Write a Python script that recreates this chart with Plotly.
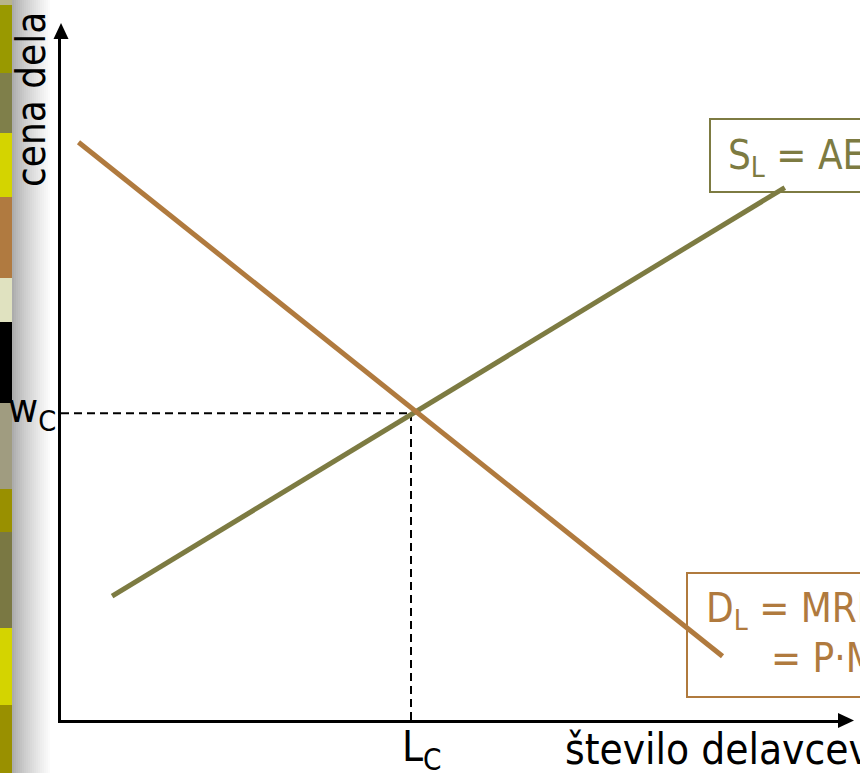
import plotly.graph_objects as go

# podatki (abstraktne enote)
L_C = 5.0
w_C = 5.0
demand_x = [0.25, 9.45]
demand_y = [9.42, 1.04]
supply_x = [0.73, 10.34]
supply_y = [2.02, 8.68]

supply_color = '#7d7b42'
demand_color = '#b07a3e'
font_family = 'DejaVu Sans Condensed, DejaVu Sans, sans-serif'

# dekorativni trak na levi (barve kvadratkov)
strip_edges = [0, 5, 73, 133, 197, 278, 322, 403, 489, 532, 628, 705, 773]
strip_colors = ['#b8b48c', '#999900', '#7f7f4a', '#d4d400', '#b07a40', '#e0e2c0',
                '#000000', '#a09c80', '#999000', '#7a7843', '#d4d400', '#999000']

# robovi risalne površine v pikslih
ML, MR, MT, MB = 61, 22, 38, 53
FW, FH = 860, 773
PW, PH = FW - ML - MR, FH - MT - MB


def px(x):
    return (x - ML) / PW


def py(y):
    return (FH - MB - y) / PH


fig = go.Figure()

fig.add_trace(go.Scatter(x=[0, L_C], y=[w_C, w_C], mode='lines',
                         line=dict(color='black', width=2, dash='8px,5px'), hoverinfo='skip'))
fig.add_trace(go.Scatter(x=[L_C, L_C], y=[0, w_C], mode='lines',
                         line=dict(color='black', width=2, dash='8px,5px'), hoverinfo='skip'))
fig.add_trace(go.Scatter(x=supply_x, y=supply_y, mode='lines',
                         line=dict(color=supply_color, width=5)))
fig.add_trace(go.Scatter(x=demand_x, y=demand_y, mode='lines',
                         line=dict(color=demand_color, width=5)))

shapes = []
for i, c in enumerate(strip_colors):
    shapes.append(dict(type='rect', xref='paper', yref='paper',
                       x0=px(0), x1=px(12), y0=py(strip_edges[i + 1]), y1=py(strip_edges[i]),
                       fillcolor=c, line=dict(width=0), layer='below'))
# siv prehod od traku do bele
n_steps = 20
for i in range(n_steps):
    g = int(172 + (255 - 172) * (i / (n_steps - 1)) ** 0.8)
    shapes.append(dict(type='rect', xref='paper', yref='paper',
                       x0=px(12 + 2 * i), x1=px(14 + 2 * i), y0=py(FH), y1=py(0),
                       fillcolor=f'rgb({g},{g},{g})', line=dict(width=0), layer='below'))

# puščici osi
shapes.append(dict(type='path', xref='paper', yref='paper',
                   path=f'M {px(61)},{py(23)} L {px(53.5)},{py(39)} L {px(68.5)},{py(39)} Z',
                   fillcolor='black', line=dict(width=0)))
shapes.append(dict(type='path', xref='paper', yref='paper',
                   path=f'M {px(854)},{py(720.5)} L {px(838)},{py(713)} L {px(838)},{py(728)} Z',
                   fillcolor='black', line=dict(width=0)))

# okvirja oznak
shapes.append(dict(type='rect', xref='paper', yref='paper',
                   x0=px(710), x1=px(920), y0=py(192), y1=py(119),
                   line=dict(color=supply_color, width=2)))
shapes.append(dict(type='rect', xref='paper', yref='paper',
                   x0=px(687), x1=px(920), y0=py(697), y1=py(573),
                   line=dict(color=demand_color, width=2)))

annotations = [
    dict(text='cena dela', xref='paper', yref='paper', x=px(31), y=py(100),
         textangle=-90, xanchor='center', yanchor='middle', showarrow=False,
         font=dict(size=40, color='black')),
    dict(text='število delavcev', xref='paper', yref='paper', x=px(563), y=py(723),
         xanchor='left', yanchor='top', showarrow=False,
         font=dict(size=42, color='black')),
    dict(text='w<sub>C</sub>', xref='paper', yref='y', x=px(58), y=w_C,
         xanchor='right', yanchor='middle', yshift=2, showarrow=False,
         font=dict(size=41, color='black')),
    dict(text='L<sub>C</sub>', xref='x', yref='paper', x=L_C, y=py(720),
         xanchor='left', yanchor='top', xshift=-11, showarrow=False,
         font=dict(size=42, color='black')),
    dict(text='S<sub>L</sub> = AE<sub>L</sub>', xref='paper', yref='paper', x=px(726), y=py(130),
         xanchor='left', yanchor='top', showarrow=False,
         font=dict(size=40, color=supply_color)),
    dict(text='D<sub>L</sub> = MRP<sub>L</sub>', xref='paper', yref='paper', x=px(704), y=py(583),
         xanchor='left', yanchor='top', showarrow=False,
         font=dict(size=40, color=demand_color)),
    dict(text='= P·MP<sub>L</sub>', xref='paper', yref='paper', x=px(769), y=py(633),
         xanchor='left', yanchor='top', showarrow=False,
         font=dict(size=40, color=demand_color)),
]

fig.update_layout(
    width=FW, height=FH,
    margin=dict(l=ML, r=MR, t=MT, b=MB),
    paper_bgcolor='white', plot_bgcolor='white',
    showlegend=False,
    font=dict(family=font_family),
    shapes=shapes,
    annotations=annotations,
)
fig.update_xaxes(range=[0, PW / 70], showgrid=False, zeroline=False, showticklabels=False,
                 ticks='', showline=True, linecolor='black', linewidth=3)
fig.update_yaxes(range=[0, PH / 61.34], showgrid=False, zeroline=False, showticklabels=False,
                 ticks='', showline=True, linecolor='black', linewidth=3)

# brez privzetega roba strani in brez orodne vrstice
fig.write_html('out.html', config={'displayModeBar': False},
               post_script="document.body.style.margin='0';")
